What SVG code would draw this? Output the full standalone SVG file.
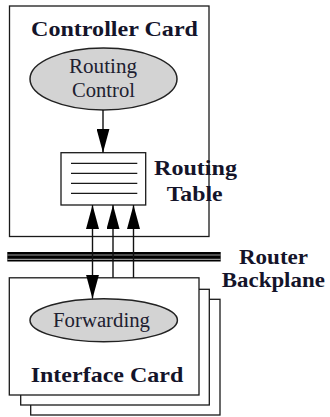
<svg xmlns="http://www.w3.org/2000/svg" width="330" height="417" viewBox="0 0 330 417">
  <style>
    .card { fill: #ffffff; stroke: #1a1a1a; stroke-width: 1.3; }
    .oval { fill: #d3d3d3; stroke: #222222; stroke-width: 1.5; }
    .tbl { fill: #ffffff; stroke: #1a1a1a; stroke-width: 1.3; }
    .row { stroke: #1a1a1a; stroke-width: 1.3; }
    .wire { stroke: #111111; stroke-width: 1.4; fill: none; }
    .bold { font-weight: bold; font-size: 21px; fill: #14142a; text-anchor: middle; }
    .reg { font-size: 20px; fill: #202030; text-anchor: middle; }
  </style>
  <defs>
    <marker id="head" markerUnits="userSpaceOnUse" viewBox="0 0 24 13" markerWidth="24" markerHeight="13" refX="24" refY="6.5" orient="auto-start-reverse">
      <path d="M0,0 L24,6.5 L0,13 Z" fill="#000000"/>
    </marker>
  </defs>
  <rect width="330" height="417" fill="#ffffff"/>

  <g font-family="Liberation Serif, Times New Roman, serif">
  <!-- controller card with its routing process and table -->
  <g id="controller-card">
    <rect class="card" x="9.5" y="6" width="199.5" height="230.5"/>
    <text class="bold" x="114.5" y="36" textLength="167" lengthAdjust="spacingAndGlyphs">Controller Card</text>
  </g>
  <g id="routing-control">
    <ellipse class="oval" cx="103.5" cy="79" rx="73.5" ry="31"/>
    <text class="reg" x="103" y="72.5" textLength="68" lengthAdjust="spacingAndGlyphs">Routing</text>
    <text class="reg" x="103.5" y="97" textLength="63" lengthAdjust="spacingAndGlyphs">Control</text>
  </g>
  <g id="routing-table">
    <rect class="tbl" x="61" y="152.7" width="84.7" height="52.3"/>
    <line class="row" x1="71" y1="163.3" x2="137.3" y2="163.3"/>
    <line class="row" x1="71" y1="173.3" x2="137.3" y2="173.3"/>
    <line class="row" x1="71" y1="183.3" x2="137.3" y2="183.3"/>
    <line class="row" x1="71" y1="193.3" x2="137.3" y2="193.3"/>
    <text class="bold" x="195.5" y="174.5" textLength="83" lengthAdjust="spacingAndGlyphs">Routing</text>
    <text class="bold" x="194.7" y="200.5" textLength="56" lengthAdjust="spacingAndGlyphs">Table</text>
  </g>

  <!-- backplane bus -->
  <g id="router-backplane">
    <rect x="7.3" y="252" width="213.4" height="9.5" fill="#000000"/>
    <line x1="7.3" y1="255" x2="220.7" y2="255" stroke="#9a9a9a" stroke-width="1.2"/>
    <line x1="7.3" y1="259.3" x2="220.7" y2="259.3" stroke="#9a9a9a" stroke-width="1.2"/>
    <text class="bold" x="273.5" y="263.5" textLength="69" lengthAdjust="spacingAndGlyphs">Router</text>
    <text class="bold" x="273.3" y="287" textLength="103" lengthAdjust="spacingAndGlyphs">Backplane</text>
  </g>

  <!-- stacked interface cards -->
  <g id="interface-card">
    <rect class="card" x="30.7" y="299.3" width="189.3" height="115.7"/>
    <rect class="card" x="20.7" y="289.3" width="188.6" height="115.7"/>
    <rect class="card" x="9.3" y="277.8" width="189.7" height="117.2"/>
    <text class="bold" x="107" y="382" textLength="152.6" lengthAdjust="spacingAndGlyphs">Interface Card</text>
  </g>
  <g id="forwarding">
    <ellipse class="oval" cx="103.7" cy="320.2" rx="73.7" ry="21.5"/>
    <text class="reg" x="101.5" y="326.5" textLength="97" lengthAdjust="spacingAndGlyphs">Forwarding</text>
  </g>
  </g>

  <!-- connectors -->
  <g id="connectors">
    <line class="wire" x1="103" y1="110" x2="103" y2="152.7" marker-end="url(#head)"/>
    <line class="wire" x1="92.5" y1="205" x2="92.5" y2="298.7" marker-start="url(#head)" marker-end="url(#head)"/>
    <line class="wire" x1="113" y1="277.8" x2="113" y2="205" marker-end="url(#head)"/>
    <line class="wire" x1="133.5" y1="277.8" x2="133.5" y2="205" marker-end="url(#head)"/>
  </g>
</svg>
